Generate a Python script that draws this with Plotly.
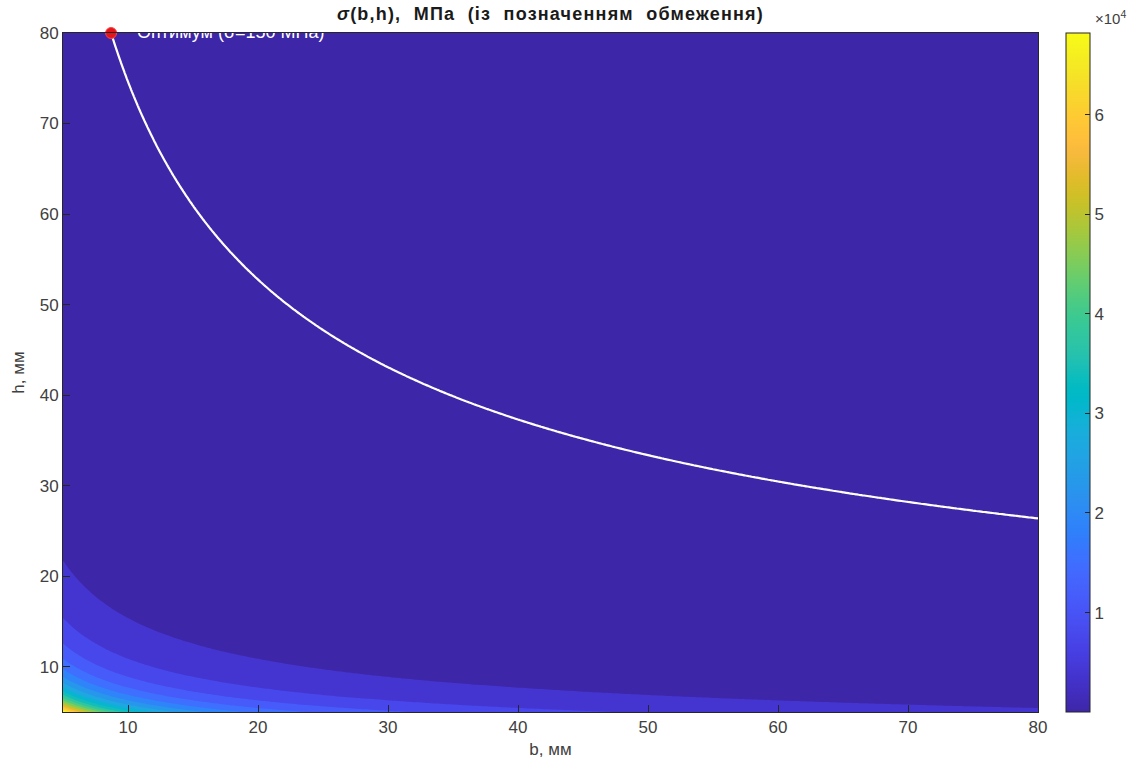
import numpy as np
import plotly.graph_objects as go

# ---- data ----
b_vals = np.linspace(5, 80, 301)          # b, mm
h_vals = np.linspace(5, 80, 301)          # h, mm
K_moment = 8.352e6                        # 6*M, N*mm (sigma = 6M / (b h^2))
sigma_allow = 150                         # MPa, constraint level
n_levels = 20
cbar_max = 68200                          # colour limit
b_opt = [8.7]
h_opt = [80]
opt_label = ["Оптимум (σ=150 МПа)"]
cbar_tickvals = [10000, 20000, 30000, 40000, 50000, 60000]
cbar_ticktext = ["1", "2", "3", "4", "5", "6"]
x_ticks = [10, 20, 30, 40, 50, 60, 70, 80]
y_ticks = [10, 20, 30, 40, 50, 60, 70, 80]

B, H = np.meshgrid(b_vals, h_vals)
S = K_moment / (B * H ** 2)
zmin = float(S.min())
zmax_data = float(S.max())
step = (zmax_data - zmin) / (n_levels - 1)

parula_rgb = [
    (0.2422, 0.1504, 0.6603), (0.2504, 0.1650, 0.7076), (0.2578, 0.1818, 0.7511),
    (0.2647, 0.1978, 0.7952), (0.2706, 0.2147, 0.8364), (0.2751, 0.2342, 0.8710),
    (0.2783, 0.2559, 0.8991), (0.2803, 0.2782, 0.9221), (0.2813, 0.3006, 0.9414),
    (0.2810, 0.3228, 0.9579), (0.2795, 0.3447, 0.9717), (0.2760, 0.3667, 0.9829),
    (0.2699, 0.3892, 0.9906), (0.2602, 0.4123, 0.9952), (0.2440, 0.4358, 0.9988),
    (0.2206, 0.4603, 0.9973), (0.1963, 0.4847, 0.9892), (0.1834, 0.5074, 0.9798),
    (0.1786, 0.5289, 0.9682), (0.1764, 0.5499, 0.9520), (0.1687, 0.5703, 0.9359),
    (0.1540, 0.5902, 0.9218), (0.1460, 0.6091, 0.9079), (0.1380, 0.6276, 0.8973),
    (0.1248, 0.6459, 0.8883), (0.1113, 0.6635, 0.8763), (0.0952, 0.6798, 0.8598),
    (0.0689, 0.6948, 0.8394), (0.0297, 0.7082, 0.8163), (0.0036, 0.7203, 0.7917),
    (0.0067, 0.7312, 0.7660), (0.0433, 0.7411, 0.7394), (0.0964, 0.7500, 0.7120),
    (0.1408, 0.7584, 0.6842), (0.1717, 0.7670, 0.6554), (0.1938, 0.7758, 0.6251),
    (0.2161, 0.7843, 0.5923), (0.2470, 0.7918, 0.5567), (0.2906, 0.7973, 0.5188),
    (0.3406, 0.8008, 0.4789), (0.3909, 0.8029, 0.4354), (0.4456, 0.8024, 0.3909),
    (0.5044, 0.7993, 0.3480), (0.5616, 0.7942, 0.3045), (0.6174, 0.7876, 0.2612),
    (0.6720, 0.7793, 0.2227), (0.7242, 0.7698, 0.1910), (0.7738, 0.7598, 0.1646),
    (0.8203, 0.7498, 0.1535), (0.8634, 0.7406, 0.1596), (0.9035, 0.7330, 0.1774),
    (0.9393, 0.7288, 0.2100), (0.9728, 0.7298, 0.2394), (0.9956, 0.7434, 0.2371),
    (0.9970, 0.7659, 0.2199), (0.9952, 0.7893, 0.2028), (0.9892, 0.8136, 0.1885),
    (0.9786, 0.8386, 0.1766), (0.9676, 0.8639, 0.1643), (0.9610, 0.8890, 0.1537),
    (0.9597, 0.9135, 0.1423), (0.9628, 0.9373, 0.1265), (0.9691, 0.9606, 0.1064),
    (0.9769, 0.9839, 0.0805),
]
n_c = len(parula_rgb)
parula = [[i / (n_c - 1), "rgb(%d,%d,%d)" % tuple(round(255 * c) for c in rgb)]
          for i, rgb in enumerate(parula_rgb)]

FONT = "Liberation Sans, Arial, sans-serif"
TXT = "#404040"

fig = go.Figure()

# filled contours: shift colour limits by half a step so each band takes
# the colour of its lower level (as MATLAB contourf does)
fig.add_trace(go.Contour(
    x=b_vals, y=h_vals, z=S,
    colorscale=parula, zmin=zmin + step / 2, zmax=cbar_max + step / 2,
    contours=dict(coloring="fill", start=zmin, end=zmax_data, size=step, showlines=False),
    line=dict(width=0),
    showscale=False, hoverinfo="skip",
))

# constraint line sigma = 150 MPa
fig.add_trace(go.Contour(
    x=b_vals, y=h_vals, z=S,
    contours=dict(coloring="lines", start=sigma_allow, end=sigma_allow, size=1),
    colorscale=[[0, "white"], [1, "white"]],
    line=dict(width=2.2),
    showscale=False, hoverinfo="skip",
))

# colorbar (continuous)
fig.add_trace(go.Scatter(
    x=[None], y=[None], mode="markers",
    marker=dict(color=[zmin, cbar_max], colorscale=parula, cmin=zmin, cmax=cbar_max,
                showscale=True,
                colorbar=dict(
                    x=1.0287, xanchor="left", xref="paper",
                    y=1, yanchor="top", len=1, lenmode="fraction",
                    thickness=24, thicknessmode="pixels",
                    outlinecolor="#262626", outlinewidth=1,
                    ticks="inside", ticklen=5, tickcolor="#262626",
                    tickvals=cbar_tickvals, ticktext=cbar_ticktext,
                    tickfont=dict(family=FONT, size=17, color=TXT),
                    xpad=0, ypad=0,
                )),
    showlegend=False, hoverinfo="skip",
))

# optimum point
fig.add_trace(go.Scatter(
    x=b_opt, y=h_opt, mode="markers",
    marker=dict(color="#e3161b", size=11, line=dict(color="#ff4040", width=1)),
    cliponaxis=False, showlegend=False,
))
fig.add_trace(go.Scatter(
    x=[v + 2 for v in b_opt], y=h_opt, mode="text",
    text=opt_label, textposition="middle right",
    textfont=dict(family=FONT, size=18, color="white"),
    cliponaxis=True, showlegend=False,
))

axis_common = dict(
    range=[5, 80], showgrid=False, zeroline=False,
    showline=True, linecolor="#262626", linewidth=1, mirror=True,
    ticks="inside", ticklen=7, tickcolor="#262626",
    tickfont=dict(family=FONT, size=17, color=TXT),
)

fig.update_layout(
    width=1135, height=767,
    margin=dict(l=63, r=97, t=33, b=55),
    paper_bgcolor="white", plot_bgcolor="white",
    showlegend=False,
    title=dict(text="<span style='letter-spacing:1.2px'><b><i>σ</i>(b,h),  МПа  (із  позначенням  обмеження)</b></span>",
               x=(63 + 1038) / 2 / 1135, xanchor="center", y=0.982, yanchor="middle",
               font=dict(family=FONT, size=18, color="#1a1a1a")),
    xaxis=dict(axis_common, tickvals=x_ticks,
               title=dict(text="b, мм", standoff=6,
                          font=dict(family=FONT, size=17, color=TXT))),
    yaxis=dict(axis_common, tickvals=y_ticks,
               title=dict(text="h, мм", standoff=10,
                          font=dict(family=FONT, size=17, color=TXT))),
    annotations=[dict(text="×10<sup>4</sup>", xref="paper", yref="paper",
                      x=(1093 - 63) / 975, y=1.0, yanchor="bottom", xanchor="left",
                      yshift=4, showarrow=False,
                      font=dict(family=FONT, size=15, color=TXT))],
)

fig.write_html("out.html")
